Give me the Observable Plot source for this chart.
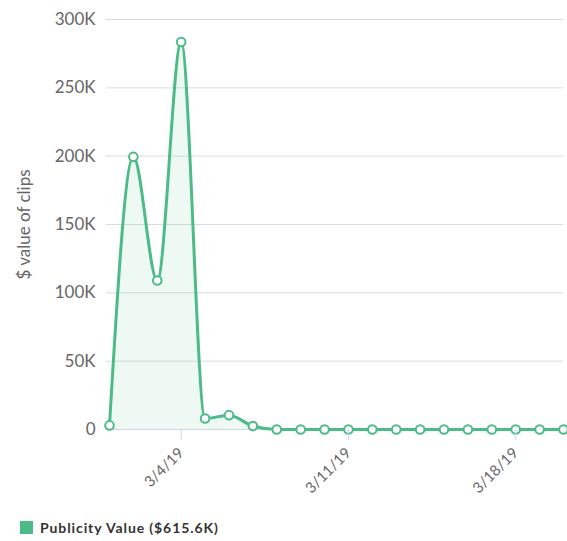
<!DOCTYPE html>
<html><head><meta charset="utf-8">
<script src="https://cdn.jsdelivr.net/npm/d3@7"></script>
<script src="https://cdn.jsdelivr.net/npm/@observablehq/plot@0.6"></script>
<style>
body{margin:0;background:#fff;font-family:Lato,"Open Sans",sans-serif}
#legend{display:flex;align-items:center;margin:14px 0 0 20px;font-size:14px;font-weight:700;color:#333;letter-spacing:0.9px}
#legend .sw{width:13px;height:13px;background:#4cbb87;margin-right:7px;display:inline-block}
</style></head><body>
<div id="chart"></div>
<div id="legend"><span class="sw"></span><span id="legtext"></span></div>
<script>
const dates = ["2019-03-01","2019-03-02","2019-03-03","2019-03-04","2019-03-05","2019-03-06","2019-03-07","2019-03-08","2019-03-09","2019-03-10","2019-03-11","2019-03-12","2019-03-13","2019-03-14","2019-03-15","2019-03-16","2019-03-17","2019-03-18","2019-03-19","2019-03-20"];
const values = [3000,199500,109000,283500,8000,10500,2500,0,0,0,0,0,0,0,0,0,0,0,0,0];
const yTicks = [0,50000,100000,150000,200000,250000,300000];
const xTicks = ["2019-03-04","2019-03-11","2019-03-18"];
const seriesName = "Publicity Value ($615.6K)";
const yTitle = "$ value of clips";

const data = dates.map((d,i)=>({date:new Date(d+"T00:00:00Z"), value:values[i]}));
const green = "#4cbb87";
const fmtX = d => `${d.getUTCMonth()+1}/${d.getUTCDate()}/${String(d.getUTCFullYear()).slice(2)}`;

const chart = Plot.plot({
  width:567, height:505,
  marginLeft:106, marginRight:4, marginTop:19, marginBottom:76,
  insetLeft:3,
  style:{fontFamily:"Lato, 'Open Sans', sans-serif", background:"#fff"},
  x:{type:"utc", domain:[data[0].date, data[data.length-1].date]},
  y:{domain:[0,300000]},
  marks:[
    Plot.gridY(yTicks.filter(v=>v>0), {stroke:"#d5dee6", strokeOpacity:1}),
    Plot.ruleY([0], {stroke:"#ccd6eb"}),
    Plot.areaY(data, {x:"date", y:"value", curve:"monotone-x", fill:green, fillOpacity:0.09}),
    Plot.lineY(data, {x:"date", y:"value", curve:"monotone-x", stroke:green, strokeWidth:3}),
    Plot.dot(data, {x:"date", y:"value", r:4.3, fill:"#fff", stroke:green, strokeWidth:2}),
    Plot.axisY({ticks:yTicks, tickSize:0, tickPadding:11, fontSize:17, fill:"#666",
      tickFormat:d=>d===0?"0":(d/1000)+"K", label:null}),
    Plot.text([yTitle], {frameAnchor:"left", dx:-82, rotate:-90, textAnchor:"middle", fontSize:17, fill:"#666",
      text:d=>d, style:"letter-spacing:0.5px"}),
    Plot.axisX({ticks:xTicks.map(d=>new Date(d+"T00:00:00Z")), tickSize:11, tickPadding:10, tickRotate:-45,
      stroke:"#ccd6eb", fill:"#666", fontSize:15, tickFormat:fmtX, label:null})
  ]
});
document.getElementById("chart").appendChild(chart);
document.getElementById("legtext").textContent = seriesName;
</script>
</body></html>
